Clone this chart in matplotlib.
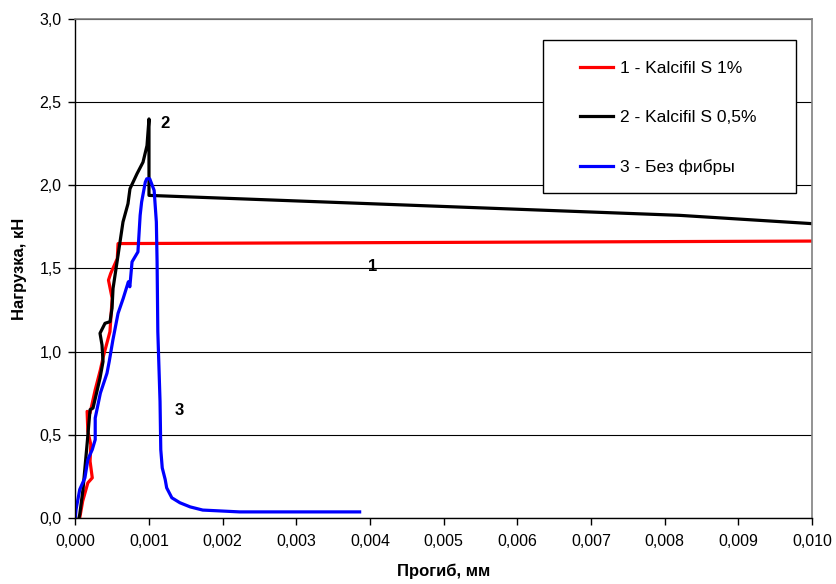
import matplotlib.pyplot as plt
from matplotlib.patches import Rectangle
from matplotlib.ticker import FuncFormatter

plt.rcParams['font.family'] = ['Liberation Sans', 'DejaVu Sans']

# 1 - Kalcifil S 1%
x1 = [0.00006, 0.00010, 0.00017, 0.00023, 0.00020, 0.00021, 0.00017, 0.00016,
      0.00020, 0.00027, 0.00034, 0.00038, 0.00044, 0.00047, 0.00050, 0.00045,
      0.00048, 0.00057, 0.00058, 0.0100]
y1 = [0.00, 0.10, 0.21, 0.24, 0.34, 0.44, 0.52, 0.64,
      0.63, 0.77, 0.89, 0.97, 1.07, 1.12, 1.32, 1.43,
      1.47, 1.56, 1.65, 1.665]

# 2 - Kalcifil S 0,5%
x2 = [0.00005, 0.00006, 0.000104, 0.000159, 0.00020, 0.00024, 0.000335, 0.000376,
      0.000362, 0.000335, 0.000403, 0.000471, 0.000498, 0.000512, 0.00058, 0.000647,
      0.000715, 0.000742, 0.000837, 0.000919, 0.000973, 0.00100, 0.00100, 0.0082, 0.0100]
y2 = [0.00, 0.02, 0.17, 0.44, 0.65, 0.66, 0.84, 0.94,
      1.04, 1.11, 1.17, 1.18, 1.26, 1.38, 1.58, 1.78,
      1.89, 1.98, 2.07, 2.14, 2.24, 2.40, 1.94, 1.82, 1.77]

# 3 - Без фибры
x3 = [0.00000, 0.00001, 0.00006, 0.00013, 0.00017, 0.00023, 0.00027, 0.00027,
      0.00034, 0.00043, 0.00046, 0.00051, 0.00058, 0.00065, 0.00072, 0.00074,
      0.00077, 0.00085, 0.00088, 0.00090, 0.00095, 0.00097, 0.00101, 0.00107,
      0.00110, 0.00111, 0.00112, 0.00115, 0.00116, 0.00118, 0.00122, 0.00124,
      0.00131, 0.00142, 0.00156, 0.00173, 0.00223, 0.00386]
y3 = [0.00, 0.05, 0.17, 0.24, 0.35, 0.41, 0.47, 0.60,
      0.75, 0.87, 0.94, 1.07, 1.23, 1.32, 1.42, 1.39,
      1.54, 1.60, 1.82, 1.90, 2.02, 2.04, 2.04, 1.97,
      1.78, 1.54, 1.12, 0.70, 0.41, 0.30, 0.23, 0.18,
      0.12, 0.09, 0.065, 0.046, 0.035, 0.035]

fig = plt.figure(figsize=(8.37, 5.84), dpi=100)
ax = fig.add_axes([0.090, 0.1135, 0.880, 0.8535])

ax.plot(x1, y1, color='#ff0000', lw=2.3, label='1 - Kalcifil S 1%')
ax.plot(x2, y2, color='black', lw=2.3, label='2 - Kalcifil S 0,5%')
ax.plot(x3, y3, color='#0000ff', lw=2.3, label='3 - Без фибры')

ax.set_xlim(0, 0.010)
ax.set_ylim(0, 3.0)
ax.set_xticks([i * 0.001 for i in range(11)])
ax.set_yticks([i * 0.5 for i in range(7)])
ax.xaxis.set_major_formatter(FuncFormatter(lambda v, p: f'{v:.3f}'.replace('.', ',')))
ax.yaxis.set_major_formatter(FuncFormatter(lambda v, p: f'{v:.1f}'.replace('.', ',')))
ax.tick_params(labelsize=11.5, direction='out', length=5, width=1, colors='black')
ax.tick_params(axis='x', pad=7)
ax.tick_params(axis='y', pad=5)

ax.grid(axis='y', color='black', lw=0.8)
ax.set_axisbelow(True)
for s in ['top', 'right']:
    ax.spines[s].set_color('#808080')
    ax.spines[s].set_linewidth(1.2)
for s in ['left', 'bottom']:
    ax.spines[s].set_color('black')
    ax.spines[s].set_linewidth(1.0)

ax.set_xlabel('Прогиб, мм', fontsize=12, fontweight='bold', labelpad=10)
ax.set_ylabel('Нагрузка, кН', fontsize=12, fontweight='bold', labelpad=9)

# curve numbers
ax.text(0.00404, 1.515, '1', fontsize=12, fontweight='bold', ha='center', va='center')
ax.text(0.00122, 2.37, '2', fontsize=12, fontweight='bold', ha='center', va='center')
ax.text(0.00141, 0.645, '3', fontsize=12, fontweight='bold', ha='center', va='center')

# legend box drawn separately, entries placed inside it
ax.add_patch(Rectangle((0.635, 0.651), 0.343, 0.307, transform=ax.transAxes,
                       facecolor='white', edgecolor='black', lw=1.0, zorder=3))
leg = ax.legend(loc='upper left', bbox_to_anchor=(0.685, 0.916), fontsize=12.5,
                frameon=False, handlelength=1.9, handletextpad=0.4,
                labelspacing=1.95, borderpad=0, borderaxespad=0)
leg.set_zorder(4)

fig.savefig('out.png', dpi=100)
